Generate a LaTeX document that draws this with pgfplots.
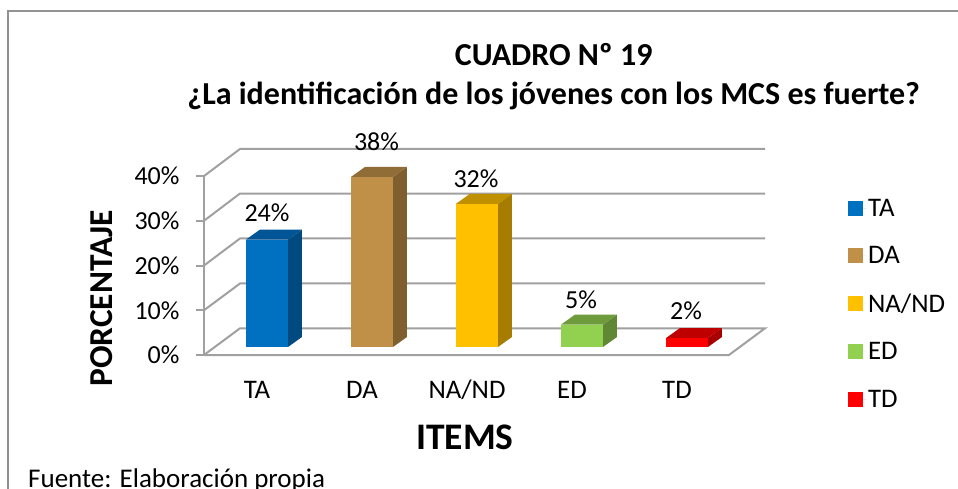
\documentclass[border=0pt]{standalone}
\usepackage{pgfplots}
\pgfplotsset{compat=1.18}
\usepackage{fontspec}
\setmainfont{Carlito}
\definecolor{frameg}{HTML}{929292}
\definecolor{gridg}{HTML}{A0A0A0}
\definecolor{c1}{HTML}{0070C0}\definecolor{c1s}{HTML}{004A80}\definecolor{c1t}{HTML}{005596}
\definecolor{c2}{HTML}{C09048}\definecolor{c2s}{HTML}{7F5F2D}\definecolor{c2t}{HTML}{906C36}
\definecolor{c3}{HTML}{FFC000}\definecolor{c3s}{HTML}{A67D00}\definecolor{c3t}{HTML}{BF9000}
\definecolor{c4}{HTML}{92D050}\definecolor{c4s}{HTML}{5F8734}\definecolor{c4t}{HTML}{6E9C3C}
\definecolor{c5}{HTML}{FF0000}\definecolor{c5s}{HTML}{A60000}\definecolor{c5t}{HTML}{BF0000}
\newcommand{\fs}[1]{\fontsize{#1}{#1}\selectfont}
\pgfplotsset{
  barf/.style n args={3}{ybar, bar width=42pt, bar shift=0pt, draw=none, fill=#1,
    nodes near coords={\pgfmathprintnumber{\pgfplotspointmeta}\%},
    nodes near coords style={anchor=center, xshift=#2pt, yshift=#3pt, font=\fs{26}, text=black},
    legend image code/.code={\fill[#1] (0pt,-7.5pt) rectangle (15pt,7.5pt);\path (0pt,0pt) -- (18pt,0pt);}},
  face/.style={fill=#1, draw=none, forget plot},
  gl/.style={gridg, line width=2pt, forget plot}
}
\begin{document}
\begin{tikzpicture}
\useasboundingbox (0,0) rectangle (958pt,488pt);
\clip (0,0) rectangle (958pt,488pt);
\begin{axis}[
  scale only axis, width=958pt, height=488pt,
  xmin=-2.5429, xmax=6.581, ymin=-31.51, ymax=77.54,
  clip=false,
  axis line style={draw=none}, tick style={draw=none},
  /pgf/number format/assume math mode=true,
  /pgf/number format/fixed,
  xtick={0,1,2,3,4}, xticklabels={TA,DA,NA/ND,ED,TD},
  xticklabel style={font=\fs{26.8}, anchor=center, xshift=-10pt, yshift=98pt},
  ytick={-1.79,8.21,18.21,28.21,38.21},
  yticklabels={0\%,10\%,20\%,30\%,40\%},
  yticklabel style={font=\fs{26}, anchor=east, xshift=183pt},
  xlabel={ITEMS},
  xlabel style={font=\fs{37.5}\bfseries, at={(axis description cs:0.4854,0.1045)}, anchor=center},
  ylabel={PORCENTAJE},
  ylabel style={font=\fs{33.4}\bfseries, at={(axis description cs:0.1065,0.389)}, anchor=center},
  title={CUADRO Nº 19\\¿La identificación de los jóvenes con los MCS es fuerte?},
  title style={font=\fontsize{32}{39}\selectfont\bfseries, align=center, at={(axis description cs:0.578,0.830)}, anchor=center},
  legend style={at={(axis description cs:0.882,0.601)}, anchor=north west, draw=none, fill=none,
    font=\fs{26.8}, row sep=24.7pt, legend cell align=left},
]
% frame: left and top edges only, the top edge runs off the right side
\addplot[frameg, line width=2pt, forget plot] coordinates {(-2.4667,-40) (-2.4667,75.1) (6.7,75.1)};
% walls and gridlines
\addplot[gl] coordinates {(-0.6,-1.79) (4.4,-1.79) (4.7429,4.18) (-0.2571,4.18) (-0.6,-1.79)};
\addplot[gl] coordinates {(-0.6,38.21) (-0.6,-1.79)};
\addplot[gl] coordinates {(-0.6,8.21) (-0.2571,14.19) (4.7429,14.19)};
\addplot[gl] coordinates {(-0.6,18.21) (-0.2571,24.25) (4.7429,24.25)};
\addplot[gl] coordinates {(-0.6,28.21) (-0.2571,34.3) (4.7429,34.3)};
\addplot[gl] coordinates {(-0.6,38.21) (-0.2571,44.25) (4.7429,44.25)};
\addplot[gl] coordinates {(-0.677,-1.79) (-0.6,-1.79)};
\addplot[gl] coordinates {(-0.677,8.21) (-0.6,8.21)};
\addplot[gl] coordinates {(-0.677,18.21) (-0.6,18.21)};
\addplot[gl] coordinates {(-0.677,28.21) (-0.6,28.21)};
\addplot[gl] coordinates {(-0.677,38.21) (-0.6,38.21)};
% side and top faces
\addplot[face=c1s] coordinates {(0.2,0) (0.333,2.235) (0.333,26.235) (0.2,24)} --cycle;
\addplot[face=c1t] coordinates {(-0.2,24) (0.2,24) (0.333,26.235) (-0.067,26.235)} --cycle;
\addplot[face=c2s] coordinates {(1.2,0) (1.333,2.235) (1.333,40.235) (1.2,38)} --cycle;
\addplot[face=c2t] coordinates {(0.8,38) (1.2,38) (1.333,40.235) (0.933,40.235)} --cycle;
\addplot[face=c3s] coordinates {(2.2,0) (2.333,2.235) (2.333,34.235) (2.2,32)} --cycle;
\addplot[face=c3t] coordinates {(1.8,32) (2.2,32) (2.333,34.235) (1.933,34.235)} --cycle;
\addplot[face=c4s] coordinates {(3.2,0) (3.333,2.235) (3.333,7.235) (3.2,5)} --cycle;
\addplot[face=c4t] coordinates {(2.8,5) (3.2,5) (3.333,7.235) (2.933,7.235)} --cycle;
\addplot[face=c5s] coordinates {(4.2,0) (4.333,2.235) (4.333,4.235) (4.2,2)} --cycle;
\addplot[face=c5t] coordinates {(3.8,2) (4.2,2) (4.333,4.235) (3.933,4.235)} --cycle;
% bars
\addplot[barf={c1}{0}{26.6}] coordinates {(0,24)};
\addlegendentry{TA}
\addplot[barf={c2}{4.5}{35}] coordinates {(1,38)};
\addlegendentry{DA}
\addplot[barf={c3}{-1}{25}] coordinates {(2,32)};
\addlegendentry{NA/ND}
\addplot[barf={c4}{-1}{24.6}] coordinates {(3,5)};
\addlegendentry{ED}
\addplot[barf={c5}{-1}{27}] coordinates {(4,2)};
\addlegendentry{TD}
\node[anchor=base west, font=\fs{27}, inner sep=0pt] at (axis cs:-2.2762,-31.29) {Fuente: Elaboración propia};
\end{axis}
\end{tikzpicture}
\end{document}
